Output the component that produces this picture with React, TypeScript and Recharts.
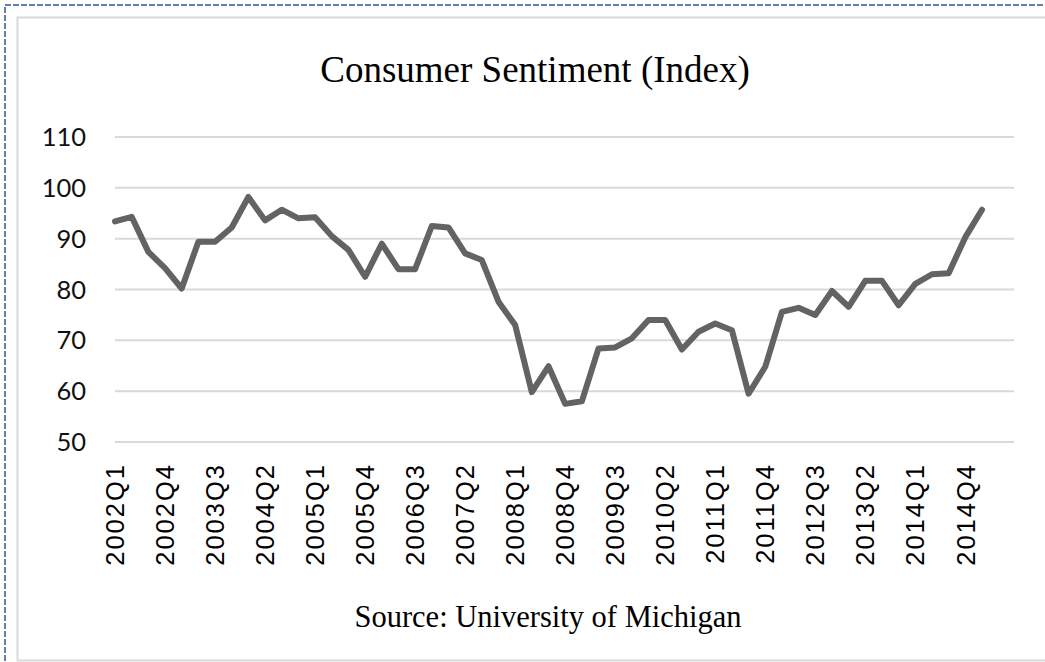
import React from 'react';
import { LineChart, Line, XAxis, YAxis, CartesianGrid } from 'recharts';

// Quarterly index, University of Michigan
const QUARTERS = [
  '2002Q1', '2002Q2', '2002Q3', '2002Q4',
  '2003Q1', '2003Q2', '2003Q3', '2003Q4',
  '2004Q1', '2004Q2', '2004Q3', '2004Q4',
  '2005Q1', '2005Q2', '2005Q3', '2005Q4',
  '2006Q1', '2006Q2', '2006Q3', '2006Q4',
  '2007Q1', '2007Q2', '2007Q3', '2007Q4',
  '2008Q1', '2008Q2', '2008Q3', '2008Q4',
  '2009Q1', '2009Q2', '2009Q3', '2009Q4',
  '2010Q1', '2010Q2', '2010Q3', '2010Q4',
  '2011Q1', '2011Q2', '2011Q3', '2011Q4',
  '2012Q1', '2012Q2', '2012Q3', '2012Q4',
  '2013Q1', '2013Q2', '2013Q3', '2013Q4',
  '2014Q1', '2014Q2', '2014Q3', '2014Q4',
  '2015Q1',
];

const SENTIMENT = [
  93.4, 94.3, 87.4, 84.2,
  80.2, 89.4, 89.4, 92.2,
  98.2, 93.6, 95.7, 94.0,
  94.2, 90.5, 87.8, 82.5,
  89.0, 84.0, 84.0, 92.5,
  92.2, 87.1, 85.8, 77.6,
  73.0, 59.8, 64.9, 57.5,
  58.0, 68.4, 68.6, 70.4,
  74.0, 74.0, 68.2, 71.7,
  73.3, 72.0, 59.5, 64.8,
  75.6, 76.4, 75.0, 79.7,
  76.6, 81.7, 81.7, 76.9,
  81.1, 83.0, 83.2, 90.3,
  95.7,
];

const Y_TICKS = [50, 60, 70, 80, 90, 100, 110];

const TITLE = 'Consumer Sentiment (Index)';
const SOURCE = 'Source: University of Michigan';

const data = QUARTERS.map((q, i) => ({ q, value: SENTIMENT[i] }));

const QuarterTick = ({ x, y, payload }: any) => (
  <text
    transform={`translate(${x},${y + 21}) rotate(-90)`}
    textAnchor="end"
    dy="0.36em"
    fill="#000"
    style={{ fontFamily: '"Liberation Sans", Arial, sans-serif', fontSize: 25.5, letterSpacing: 2 }}
  >
    {payload.value}
  </text>
);

export default function App() {
  return (
    <div style={{ position: 'absolute', left: 0, top: 0, width: 1045, height: 662, background: '#fff', overflow: 'hidden' }}>
      <svg width={1045} height={662} style={{ position: 'absolute', left: 0, top: 0 }}>
        <rect x={5} y={5} width={1100} height={700} fill="none" stroke="#2F5597" strokeWidth={1.5} strokeDasharray="6 2" />
        <rect x={17.5} y={17.5} width={1100} height={643} fill="#fff" stroke="#d9d9d9" strokeWidth={2} />
        <text x={535} y={82} textAnchor="middle" fill="#000" style={{ fontFamily: '"Liberation Serif", "Times New Roman", serif', fontSize: 37 }}>
          {TITLE}
        </text>
        <text x={548} y={627} textAnchor="middle" fill="#000" style={{ fontFamily: '"Liberation Serif", "Times New Roman", serif', fontSize: 30.5 }}>
          {SOURCE}
        </text>
      </svg>
      <div style={{ position: 'absolute', left: 0, top: 0 }}>
        <LineChart width={1045} height={662} data={data} margin={{ top: 137, right: 31, left: 0, bottom: 90 }}>
          <CartesianGrid vertical={false} stroke="#d9d9d9" strokeWidth={2} />
          <XAxis
            dataKey="q"
            interval={2}
            axisLine={false}
            tickLine={false}
            tickSize={0}
            tickMargin={0}
            height={130}
            padding={{ left: 0, right: 32 }}
            tick={<QuarterTick />}
          />
          <YAxis
            domain={[50, 110]}
            ticks={Y_TICKS}
            width={115}
            axisLine={false}
            tickLine={false}
            tickSize={0}
            tickMargin={29}
            tick={{ fill: '#111', fontSize: 25.5, fontFamily: 'Lato, "Open Sans", sans-serif' }}
          />
          <Line
            type="linear"
            dataKey="value"
            stroke="#636363"
            strokeWidth={6}
            strokeLinejoin="round"
            strokeLinecap="round"
            dot={false}
            activeDot={false}
            isAnimationActive={false}
          />
        </LineChart>
      </div>
    </div>
  );
}
